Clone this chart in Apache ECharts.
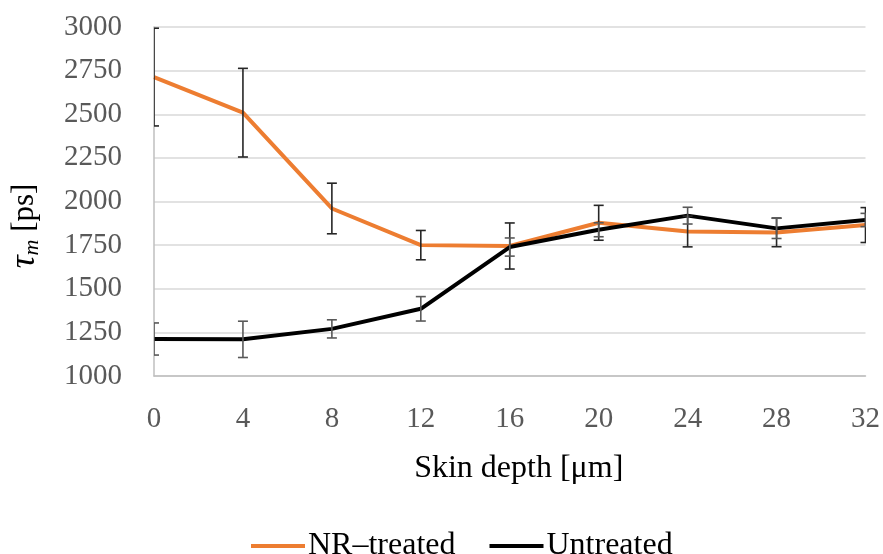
<!DOCTYPE html>
<html><head><meta charset="utf-8">
<script src="https://cdn.jsdelivr.net/npm/echarts@6/dist/echarts.min.js"></script>
<style>html,body{margin:0;padding:0;background:#fff}#c{width:883px;height:554px}</style>
</head><body><div id="c"></div>
<script>
const depths = ['0','4','8','12','16','20','24','28','32'];
const nrTreated = [2713, 2509, 1960, 1750, 1745, 1878, 1828, 1823, 1865];
const nrTreatedErr = [280, 254, 145, 84, 132, 100, 88, 82, 100];
const untreated = [1212, 1210, 1270, 1385, 1739, 1838, 1919, 1846, 1894];
const untreatedErr = [92, 104, 52, 70, 52, 40, 48, 58, 38];

const FONT = 'Liberation Serif';
function errData(vals, errs){ return vals.map((v,i)=>[i, v-errs[i], v+errs[i]]); }
function errSeries(name, vals, errs, color){
  return {
    type:'custom', name: name+'_err', clip:true, z:5, silent:true,
    encode:{x:0, y:[1,2]},
    data: errData(vals, errs),
    renderItem: function(params, api){
      const x = api.value(0);
      const lo = api.coord([x, api.value(1)]);
      const hi = api.coord([x, api.value(2)]);
      const w = 5;
      const st = {stroke: color, lineWidth: 1.6};
      return {type:'group', children:[
        {type:'line', shape:{x1:lo[0], y1:lo[1], x2:hi[0], y2:hi[1]}, style:st},
        {type:'line', shape:{x1:lo[0]-w, y1:lo[1], x2:lo[0]+w, y2:lo[1]}, style:st},
        {type:'line', shape:{x1:hi[0]-w, y1:hi[1], x2:hi[0]+w, y2:hi[1]}, style:st}
      ]};
    }
  };
}
const chart = echarts.init(document.getElementById('c'));
chart.setOption({
  animation:false,
  grid:{left:154, right:13, top:27, bottom:178, containLabel:false},
  legend:{
    top:525, left:246, icon:'rect', itemWidth:54, itemHeight:4, itemGap:34,
    data:['NR–treated','Untreated'],
    textStyle:{fontFamily:FONT, fontSize:32, color:'#000', padding:[0,0,0,-2]}
  },
  graphic:[{
    type:'text', x:25, y:226, rotation:Math.PI/2,
    style:{
      text:'{t|τ}{s|m} [ps]', align:'center', verticalAlign:'middle',
      fontFamily:FONT, fontSize:31, fill:'#000',
      rich:{t:{fontFamily:FONT, fontStyle:'italic', fontSize:36, fill:'#000', color:'#000'},
            s:{fontFamily:FONT, fontStyle:'italic', fontSize:22, fill:'#000', color:'#000', padding:[14,0,0,0]}}
    }
  }],
  xAxis:{
    type:'category', data:depths, boundaryGap:false,
    name:'Skin depth [μm]', nameLocation:'middle', nameGap:77,
    nameTextStyle:{fontFamily:FONT, fontSize:32, color:'#000', padding:[0,0,0,18]},
    axisLine:{lineStyle:{color:'#bfbfbf', width:1.5}},
    axisTick:{show:false},
    axisLabel:{fontFamily:FONT, fontSize:29, color:'#595959', margin:29},
    splitLine:{show:false}
  },
  yAxis:{
    type:'value', min:1000, max:3000, interval:250,
    axisLine:{show:true, lineStyle:{color:'#bfbfbf', width:1.5}},
    axisTick:{show:false},
    axisLabel:{fontFamily:FONT, fontSize:29, color:'#595959', margin:32, formatter:v=>String(v)},
    splitLine:{lineStyle:{color:'#d9d9d9', width:1.5}}
  },
  series:[
    {type:'line', name:'NR–treated', data:nrTreated, symbol:'none', z:3,
     lineStyle:{color:'#ed7d31', width:4}, itemStyle:{color:'#ed7d31'}},
    {type:'line', name:'Untreated', data:untreated, symbol:'none', z:4,
     lineStyle:{color:'#000', width:4}, itemStyle:{color:'#000'}},
    errSeries('NR–treated', nrTreated, nrTreatedErr, '#262626'),
    errSeries('Untreated', untreated, untreatedErr, '#595959')
  ]
});
</script></body></html>
